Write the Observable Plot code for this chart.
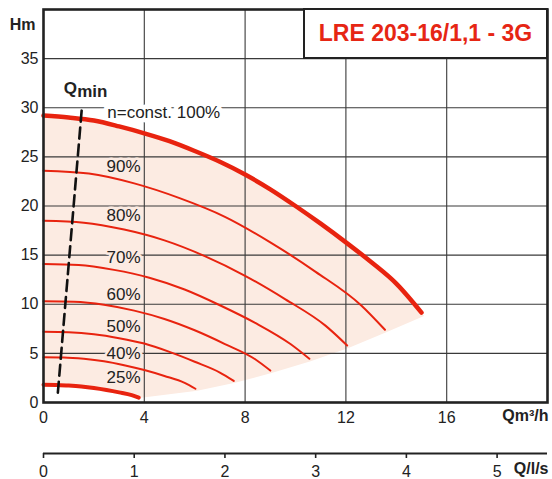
<!DOCTYPE html>
<html>
<head>
<meta charset="utf-8">
<script src="https://cdn.jsdelivr.net/npm/d3@7"></script>
<script src="https://cdn.jsdelivr.net/npm/@observablehq/plot@0.6"></script>
<style>
  html, body { margin: 0; padding: 0; background: #fff; }
  #wrap { position: relative; width: 552px; height: 479px; font-family: "Liberation Sans", Arial, sans-serif; }
  #wrap svg { display: block; }
  #titlebox {
    position: absolute; left: 303px; top: 8px; width: 245px; height: 51px;
    box-sizing: border-box; border: 2.2px solid #222; background: #fff;
    display: flex; align-items: center; justify-content: center;
    color: #e62614; font-weight: bold; font-size: 23px; white-space: nowrap;
  }
</style>
</head>
<body>
<div id="wrap"><div id="titlebox">LRE 203-16/1,1 - 3G</div></div>
<script>
// ---- tick values ----
const qTicks = [0, 4, 8, 12, 16];              // Q m³/h
const hTicks = [0, 5, 10, 15, 20, 25, 30, 35]; // H m
const lsTicks = [0, 1, 2, 3, 4, 5];            // Q l/s
const qMax = 20, hMax = 40;

// ---- pump curves [Q m³/h, H m] ----
const curve100 = [[0,29.2],[1,29.0],[2,28.7],[3,28.1],[4,27.4],[5,26.6],[6,25.6],[7,24.5],[8,23.2],[9,21.7],[10,20.0],[11,18.2],[12,16.3],[13,14.3],[14,12.1],[15,9.15]];
const curve90  = [[0,23.6],[1.8,23.3],[3.6,22.3],[5.4,20.8],[7.2,18.9],[9,16.3],[10.8,13.3],[12.6,9.9],[13.55,7.4]];
const curve80  = [[0,18.5],[1.6,18.3],[3.2,17.6],[4.8,16.5],[6.4,14.9],[8,12.9],[9.6,10.5],[11.2,7.8],[12.05,5.8]];
const curve70  = [[0,14.1],[1.4,14.0],[2.8,13.5],[4.2,12.7],[5.6,11.5],[7,9.9],[8.4,8.1],[9.8,5.95],[10.55,4.45]];
const curve60  = [[0,10.3],[1.2,10.25],[2.4,9.95],[3.6,9.35],[4.8,8.5],[6,7.35],[7.2,5.95],[8.4,4.4],[9.0,3.25]];
const curve50  = [[0,7.2],[1,7.15],[2,6.95],[3,6.55],[4,6.0],[5,5.15],[6,4.15],[7,3.05],[7.55,2.2]];
const curve40  = [[0,4.6],[0.8,4.58],[1.6,4.45],[2.4,4.2],[3.2,3.8],[4,3.3],[4.8,2.7],[5.6,2.0],[6.03,1.4]];
const curve25  = [[0,1.8],[0.5,1.79],[1,1.72],[1.5,1.62],[2,1.47],[2.5,1.27],[3,1.03],[3.5,0.75],[3.78,0.5]];

// lower edge of the shaded operating range (from 100% end down to 25% end)
const rangeEdge = [[15.1,8.8],[13.6,7.15],[12.1,5.55],[10.6,4.2],[9.05,3.0],[7.6,2.0],[6.1,1.2],[3.8,0.45]];

// Qmin line
const qminLine = [[0.57,1.0],[1.53,30.2]];

// ---- labels ----
const speedLabels = ["90%", "80%", "70%", "60%", "50%", "40%", "25%"];
const speedLabelH = [24.0, 19.0, 14.8, 11.0, 7.7, 5.0, 2.5];
const speedLabelQ = 3.85;
const nconstLabel = {text: "n=const. 100%", Q: 2.53, H: 29.55};
const qminLabel = {Q: 0.8, H: 32.0};

// ---- colors ----
const red = "#e8230f";
const pink = "#fcebe2";
const ink = "#222";
const font = "Liberation Sans, Arial, sans-serif";

const thinCurves = [curve90, curve80, curve70, curve60, curve50, curve40];
const polygon = [...curve100, ...rangeEdge, ...curve25.slice().reverse()];
const labelRows = speedLabels.map((t, i) => ({t, Q: speedLabelQ, H: speedLabelH[i]}));

const X = d => d[0], Y = d => d[1];

const main = Plot.plot({
  width: 552, height: 430,
  marginLeft: 43, marginRight: 5, marginTop: 9, marginBottom: 28,
  style: {fontFamily: font, fontSize: "16px", color: ink, background: "transparent", overflow: "visible"},
  x: {domain: [0, qMax], ticks: qTicks, tickSize: 0, tickPadding: 9, label: null},
  y: {domain: [0, hMax], ticks: hTicks, tickSize: 0, tickPadding: 5, label: null},
  marks: [
    Plot.line(polygon, {x: X, y: Y, fill: pink, stroke: "none"}),
    Plot.ruleX(qTicks.filter(q => q > 0), {stroke: "#3a3a3a", strokeWidth: 1.1}),
    Plot.ruleY(hTicks.filter(h => h > 0), {stroke: "#3a3a3a", strokeWidth: 1.1}),
    Plot.text(labelRows, {x: "Q", y: "H", text: "t", textAnchor: "end", fontSize: 17, fill: ink,
      stroke: pink, strokeWidth: 5, paintOrder: "stroke", strokeLinejoin: "round"}),
    Plot.text([nconstLabel], {x: "Q", y: "H", text: "text", textAnchor: "start", fontSize: 17, fill: ink,
      stroke: "#fff", strokeWidth: 9, paintOrder: "stroke", strokeLinejoin: "round"}),
    ...thinCurves.map(c => Plot.line(c, {x: X, y: Y, stroke: red, strokeWidth: 2, curve: "monotone-x"})),
    Plot.line(curve100, {x: X, y: Y, stroke: red, strokeWidth: 4.5, curve: "monotone-x"}),
    Plot.line(curve25, {x: X, y: Y, stroke: red, strokeWidth: 4, curve: "monotone-x"}),
    Plot.line(qminLine, {x: X, y: Y, stroke: "#111", strokeWidth: 2.6, strokeDasharray: "11,6"}),
    Plot.text([qminLabel], {x: "Q", y: "H", text: () => "Q", textAnchor: "start", fontSize: 17, fontWeight: "bold", fill: ink}),
    Plot.text([qminLabel], {x: "Q", y: "H", text: () => "min", textAnchor: "start", fontSize: 17, fontWeight: "bold", fill: ink, dx: 13.5, dy: 3}),
    Plot.frame({stroke: ink, strokeWidth: 2.6}),
    Plot.text(["Hm"], {frameAnchor: "top-left", textAnchor: "end", dx: -8, dy: 9, fontSize: 16, fontWeight: "bold", fill: ink}),
    Plot.text(["Qm³/h"], {frameAnchor: "bottom-right", textAnchor: "end", dx: 1, dy: 18, fontSize: 16, fontWeight: "bold", fill: ink})
  ]
});

const lower = Plot.plot({
  width: 552, height: 49,
  marginLeft: 43, marginRight: 5, marginTop: 22, marginBottom: 26,
  style: {fontFamily: font, fontSize: "16px", color: ink, background: "transparent", overflow: "visible"},
  x: {domain: [0, qMax / 3.6], ticks: lsTicks, tickFormat: "d", tickSize: 5, tickPadding: 7, label: null},
  y: {domain: [0, 1], axis: null},
  marks: [
    Plot.ruleY([0], {stroke: ink, strokeWidth: 2}),
    Plot.axisX({ticks: lsTicks, tickFormat: "d", tickSize: 5, tickPadding: 7, strokeWidth: 1.6, label: null}),
    Plot.text(["Q/l/s"], {frameAnchor: "bottom-right", textAnchor: "end", dx: 1, dy: 20, fontSize: 16, fontWeight: "bold", fill: ink})
  ]
});

const wrap = document.getElementById("wrap");
wrap.insertBefore(lower, wrap.firstChild);
wrap.insertBefore(main, wrap.firstChild);
</script>
</body>
</html>
